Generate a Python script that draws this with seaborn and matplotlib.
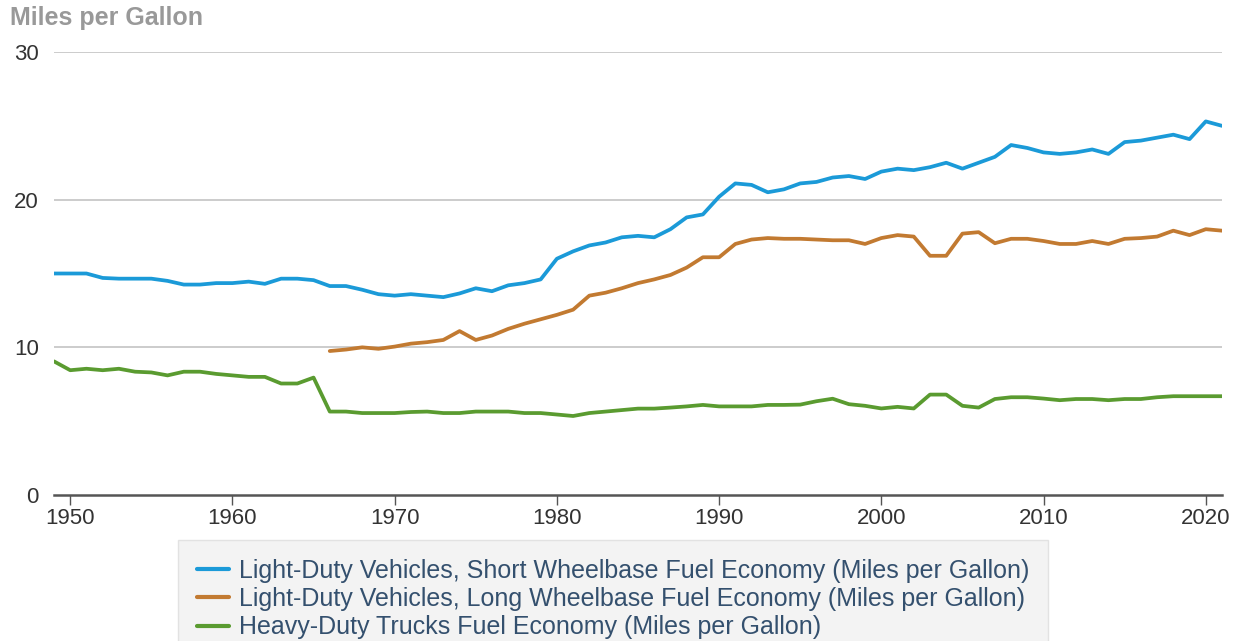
import numpy as np
import pandas as pd
import matplotlib
matplotlib.use('Agg')
import matplotlib.pyplot as plt
import seaborn as sns

# -----------------------------
# Data
# -----------------------------
years = list(range(1949, 2022))

short_wb = [15.0, 15.0, 15.0, 14.7, 14.65, 14.65, 14.65, 14.5, 14.25, 14.25,
            14.35, 14.35, 14.45, 14.3, 14.65, 14.65, 14.55, 14.15, 14.15, 13.9,
            13.6, 13.5, 13.6, 13.5, 13.4, 13.65, 14.0, 13.8, 14.2, 14.35,
            14.6, 16.0, 16.5, 16.9, 17.1, 17.45, 17.55, 17.45, 18.0, 18.8,
            19.0, 20.2, 21.1, 21.0, 20.5, 20.7, 21.1, 21.2, 21.5, 21.6,
            21.4, 21.9, 22.1, 22.0, 22.2, 22.5, 22.1, 22.5, 22.9, 23.7,
            23.5, 23.2, 23.1, 23.2, 23.4, 23.1, 23.9, 24.0, 24.2, 24.4,
            24.1, 25.3, 25.0]

long_wb_years = list(range(1966, 2022))
long_wb = [9.75, 9.85, 10.0, 9.9, 10.05, 10.25, 10.35, 10.5, 11.1, 10.5,
           10.8, 11.25, 11.6, 11.9, 12.2, 12.55, 13.5, 13.7, 14.0, 14.35,
           14.6, 14.9, 15.4, 16.1, 16.1, 17.0, 17.3, 17.4, 17.35, 17.35,
           17.3, 17.25, 17.25, 17.0, 17.4, 17.6, 17.5, 16.2, 16.2, 17.7,
           17.8, 17.05, 17.35, 17.35, 17.2, 17.0, 17.0, 17.2, 17.0, 17.35,
           17.4, 17.5, 17.9, 17.6, 18.0, 17.9]

heavy = [9.05, 8.45, 8.55, 8.45, 8.55, 8.35, 8.3, 8.1, 8.35, 8.35,
         8.2, 8.1, 8.0, 8.0, 7.55, 7.55, 7.95, 5.65, 5.65, 5.55,
         5.55, 5.55, 5.62, 5.65, 5.55, 5.55, 5.65, 5.65, 5.65, 5.55,
         5.55, 5.45, 5.35, 5.55, 5.65, 5.75, 5.85, 5.85, 5.92, 6.0,
         6.1, 6.0, 6.0, 6.0, 6.1, 6.1, 6.12, 6.35, 6.52, 6.15,
         6.04, 5.86, 5.97, 5.86, 6.8, 6.8, 6.04, 5.92, 6.5, 6.62,
         6.62, 6.53, 6.42, 6.5, 6.5, 6.42, 6.5, 6.5, 6.62, 6.69,
         6.69, 6.69, 6.69]

labels = ['Light-Duty Vehicles, Short Wheelbase Fuel Economy (Miles per Gallon)',
          'Light-Duty Vehicles, Long Wheelbase Fuel Economy (Miles per Gallon)',
          'Heavy-Duty Trucks Fuel Economy (Miles per Gallon)']
colors = ['#1b9ad8', '#c27a31', '#5a9b30']

df = pd.concat([
    pd.DataFrame({'year': years, 'mpg': short_wb, 'series': labels[0]}),
    pd.DataFrame({'year': long_wb_years, 'mpg': long_wb, 'series': labels[1]}),
    pd.DataFrame({'year': years, 'mpg': heavy, 'series': labels[2]}),
])

# -----------------------------
# Plot
# -----------------------------
sns.set_style('white')
plt.rcParams['font.family'] = ['Liberation Sans', 'DejaVu Sans']

fig = plt.figure(figsize=(12.43, 6.41), dpi=100)
ax = fig.add_axes([54 / 1243, 1 - 495 / 641, (1222 - 54) / 1243, (495 - 52) / 641])

sns.lineplot(data=df, x='year', y='mpg', hue='series', hue_order=labels,
             palette=colors, linewidth=2.7, errorbar=None, ax=ax)

ax.set_xlim(1949, 2021)
ax.set_ylim(0, 30)
ax.set_yticks([0, 10, 20, 30])
ax.set_xticks(range(1950, 2021, 10))
ax.set_xlabel('')
ax.set_ylabel('')

for y in [10, 20, 30]:
    ax.axhline(y, color='#cccccc', linewidth=1.4, zorder=0)

for side in ['top', 'right', 'left']:
    ax.spines[side].set_visible(False)
ax.spines['bottom'].set_color('#555555')
ax.spines['bottom'].set_linewidth(1.8)

ax.tick_params(axis='x', length=7, width=1, color='#555555', colors='#333333',
               labelsize=16, pad=2, direction='out', bottom=True)
ax.tick_params(axis='y', length=0, colors='#333333', labelsize=16, pad=11)

fig.text(10 / 1243, 1 - 18 / 641, 'Miles per Gallon', fontsize=18, fontweight='bold',
         color='#999999', va='center', ha='left')

handles, _ = ax.get_legend_handles_labels()
leg = ax.legend(handles, labels, loc='upper left',
                bbox_to_anchor=(178 / 1243, 1 - 540 / 641),
                bbox_transform=fig.transFigure, frameon=True, fontsize=18,
                handlelength=1.3, handletextpad=0.4, labelspacing=0.17,
                borderpad=0.75, borderaxespad=0, fancybox=False,
                labelcolor='#34506e')
leg.get_frame().set_facecolor('#f0f0f0')
leg.get_frame().set_edgecolor('#dddddd')
for line in leg.get_lines():
    line.set_linewidth(3)

fig.savefig('out.png', dpi=100)
